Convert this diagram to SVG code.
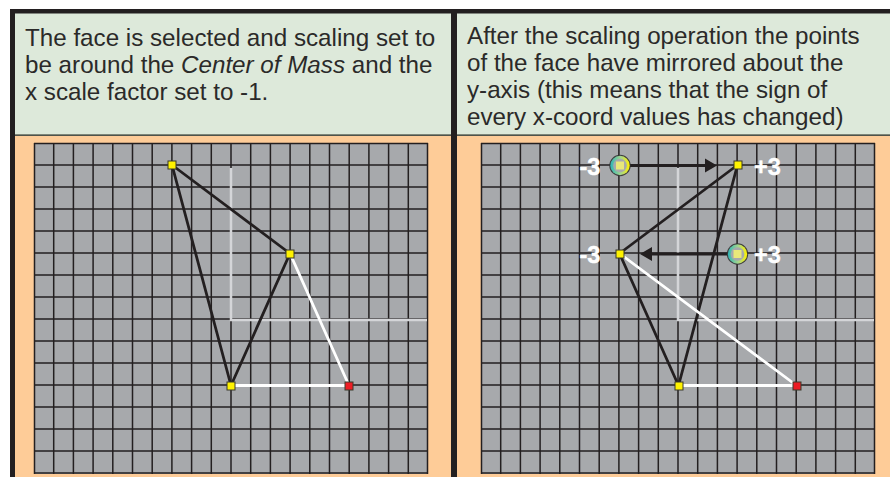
<svg xmlns="http://www.w3.org/2000/svg" width="890" height="477" viewBox="0 0 890 477">
<style>
.t{font-family:"Liberation Sans",Arial,sans-serif;font-size:24.2px;fill:#2b2a29}
.n{font-family:"Liberation Sans",Arial,sans-serif;font-size:23.5px;font-weight:bold;fill:#fff;stroke:#fff;stroke-width:.4}
.g{stroke:#231f20;stroke-width:1.5;fill:none}
.d{stroke:#231f20;stroke-width:2.8;fill:none}
.w{stroke:#fff;stroke-width:2.8;fill:none}
.a{stroke:#d4d5d8;stroke-width:2.5;fill:none}
.y{fill:#fff200;stroke:#3a3a2a;stroke-width:1}
.r{fill:#ed1c24;stroke:#3a3a2a;stroke-width:1}
.o{fill:#e8e87a}
.ar{stroke:#231f20;stroke-width:2.8;fill:none}
</style>
<defs>
<linearGradient id="ring" x1="0" y1="0" x2="1" y2="0"><stop offset="0" stop-color="#2fb5b8"/><stop offset=".55" stop-color="#a8d68a"/><stop offset="1" stop-color="#fff200"/></linearGradient>
<path id="grid" d="M0 .5H394M0 22H394M0 44H394M0 66H394M0 88H394M0 110H394M0 132H394M0 154H394M0 176H394M0 198H394M0 220H394M0 242H394M0 264H394M0 286H394M0 308H394M0 330H394M.5 0V331M19.7 0V331M39.4 0V331M59.1 0V331M78.8 0V331M98.5 0V331M118.2 0V331M137.9 0V331M157.6 0V331M177.3 0V331M197 0V331M216.7 0V331M236.4 0V331M256.1 0V331M275.8 0V331M295.5 0V331M315.2 0V331M334.9 0V331M354.6 0V331M374.3 0V331M393.5 0V331"/>
<g id="handle"><circle r="10.7" fill="#333" opacity=".9"/><circle r="9.7" fill="url(#ring)"/><circle r="6.8" fill="#a7a9ac"/><rect x="-4" y="-4" width="8" height="8" class="o"/></g>
</defs>
<rect width="890" height="477" fill="#fff"/>
<g id="frame">
<rect x="10" y="9" width="880" height="468" fill="#231f20"/>
<rect x="15" y="13.500" width="436" height="121.500" fill="#dde9da"/>
<rect x="457" y="13.500" width="433" height="121.500" fill="#dde9da"/>
<rect x="15" y="136" width="436" height="341" fill="#fecc98"/>
<rect x="457" y="136" width="433" height="341" fill="#fecc98"/>
<path d="M15 135H451M457 135H890" stroke="#5f6659" stroke-width="1.6"/>
</g>
<g id="left-text">
<text class="t" x="25" y="46">The face is selected and scaling set to</text>
<text class="t" x="25" y="73">be around the <tspan font-style="italic">Center of Mass</tspan> and the</text>
<text class="t" x="25" y="100">x scale factor set to -1.</text>
</g>
<g id="right-text">
<text class="t" x="467" y="44">After the scaling operation the points</text>
<text class="t" x="467" y="71">of the face have mirrored about the</text>
<text class="t" x="467" y="98">y-axis (this means that the sign of</text>
<text class="t" x="467" y="125">every x-coord values has changed)</text>
</g>
<g id="left-grid">
<rect x="34" y="143" width="394" height="331" fill="#a7a9ac"/>
<use href="#grid" x="34" y="143" class="g"/>
<path class="a" d="M231 168V320H427"/>
</g>
<g id="right-grid">
<rect x="481" y="143" width="394" height="331" fill="#a7a9ac"/>
<use href="#grid" x="481" y="143" class="g"/>
<path class="a" d="M678 168V320H874"/>
</g>
<g id="connectors">
<path class="d" d="M172 165L290 253.500M172 165L231 385.500M290 253.500L231 385.500"/>
<path class="w" d="M290 253.500L349 385.500H231"/>
<path class="d" d="M737.500 165L619.500 253.500M737.500 165L678.500 385.500M619.500 253.500L678.500 385.500"/>
<path class="w" d="M619.500 253.500L796.500 385.500H678.500"/>
<path class="ar" d="M620 165.500H706M737 254H650"/>
<path fill="#231f20" d="M717 165.500L705 158.500V172.500ZM640 254L652 247V261Z"/>
</g>
<g id="left-v1"><rect x="168" y="161" width="8" height="8" class="y"/></g>
<g id="left-v2"><rect x="286" y="250" width="8" height="8" class="y"/></g>
<g id="left-v3"><rect x="227" y="382" width="8" height="8" class="y"/></g>
<g id="left-v4"><rect x="345" y="382" width="8" height="8" class="r"/></g>
<g id="right-v1"><rect x="734" y="161" width="8" height="8" class="y"/><text class="n" x="754" y="175">+3</text></g>
<g id="right-v2"><rect x="616" y="250" width="8" height="8" class="y"/><text class="n" x="579.500" y="263">-3</text></g>
<g id="right-v3"><rect x="675" y="382" width="8" height="8" class="y"/></g>
<g id="right-v4"><rect x="793" y="382" width="8" height="8" class="r"/></g>
<g id="handle-top"><use href="#handle" x="620" y="165.500"/><text class="n" x="579.500" y="175">-3</text></g>
<g id="handle-mid"><use href="#handle" x="737.500" y="254"/><text class="n" x="754" y="263">+3</text></g>
</svg>
